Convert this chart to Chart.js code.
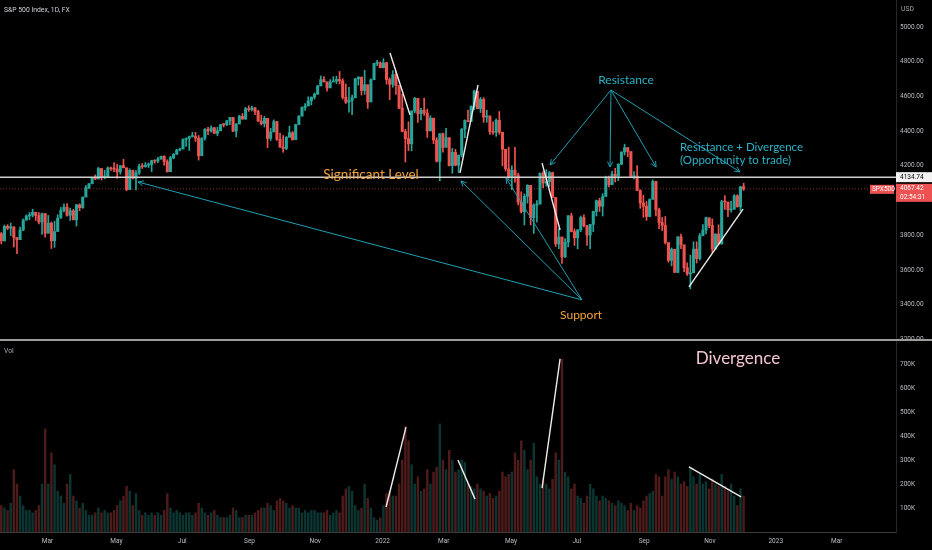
<!DOCTYPE html>
<html>
<head>
<meta charset="utf-8">
<script src="https://cdn.jsdelivr.net/npm/chart.js@4"></script>
<style>
  html, body { margin: 0; padding: 0; background: #000; }
  #wrap { position: relative; width: 932px; height: 550px; }
</style>
</head>
<body>
<div id="wrap"><canvas id="spx"></canvas></div>
<script>
// S&P 500, 2-day candles. Day index: trading days counted from 1 Mar 2021 (= 0)
var firstDay = -30;
var firstOpen = 3809;

var closes = [
  3768,3851,3841,3849,3787,3774,3830,3887,3911,3916,
  3932,3913,3876,3925,3811,3870,3768,3821,3898,3943,
  3962,3915,3941,3889,3975,3959,4020,4074,4097,4128,
  4124,4185,4135,4135,4188,4183,4181,4165,4201,4189,
  4063,4174,4128,4159,4197,4195,4204,4208,4230,4227,
  4239,4255,4224,4166,4246,4266,4291,4297,4352,4358,
  4369,4369,4360,4258,4359,4411,4401,4419,4387,4402,
  4437,4436,4460,4479,4400,4441,4486,4470,4529,4524,
  4535,4514,4458,4443,4474,4358,4395,4455,4353,4308,
  4300,4364,4391,4351,4438,4486,4537,4545,4575,4596,
  4613,4660,4697,4685,4649,4683,4689,4698,4690,4595,
  4567,4577,4592,4701,4712,4634,4668,4568,4696,4791,
  4793,4766,4794,4697,4670,4726,4663,4533,4398,4357,
  4327,4516,4589,4500,4521,4504,4401,4475,4349,4226,
  4385,4306,4363,4201,4278,4204,4262,4411,4461,4456,
  4543,4631,4530,4583,4481,4488,4397,4393,4462,4394,
  4296,4183,4132,4175,4147,3991,3935,4024,4088,3901,
  3974,3979,4158,4101,4109,4161,4018,3750,3790,3675,
  3760,3912,3821,3785,3831,3902,3855,3801,3863,3937,
  3999,3967,4023,4130,4091,4152,4140,4210,4280,4305,
  4283,4138,4141,4058,3986,3967,3908,4006,4110,3946,
  3873,3856,3758,3655,3719,3586,3791,3745,3612,3577,
  3583,3720,3665,3797,3830,3901,3856,3720,3807,3749,
  3993,3992,3946,3950,4027,3964,4080,4067
];
var highs = [
  3816,3859,3861,3870,3830,3784,3847,3894,3917,3931,
  3950,3933,3931,3928,3925,3914,3876,3881,3918,3960,
  3981,3983,3956,3949,3978,3981,4020,4086,4098,4129,
  4148,4191,4180,4175,4194,4193,4219,4209,4201,4238,
  4162,4183,4175,4172,4210,4213,4219,4217,4233,4235,
  4249,4256,4258,4235,4255,4271,4296,4302,4355,4361,
  4372,4393,4393,4375,4362,4415,4422,4430,4422,4423,
  4440,4445,4461,4480,4477,4444,4492,4502,4537,4546,
  4545,4536,4520,4492,4486,4472,4416,4465,4457,4389,
  4375,4369,4429,4398,4439,4489,4540,4559,4598,4597,
  4620,4664,4718,4714,4680,4697,4714,4717,4744,4702,
  4672,4652,4608,4705,4713,4710,4751,4665,4701,4791,
  4808,4800,4818,4797,4707,4749,4744,4632,4613,4411,
  4454,4517,4595,4539,4531,4591,4527,4489,4473,4362,
  4385,4389,4416,4342,4300,4295,4262,4415,4465,4522,
  4546,4637,4627,4594,4593,4521,4484,4453,4471,4513,
  4385,4279,4308,4200,4307,4157,4050,4038,4091,4076,
  3981,3999,4158,4167,4178,4168,4164,3974,3838,3707,
  3780,3913,3927,3836,3832,3911,3918,3855,3863,3939,
  4003,4013,4040,4141,4141,4168,4186,4212,4280,4325,
  4304,4250,4167,4201,4062,4030,3994,4010,4119,4110,
  3956,3902,3908,3727,3727,3710,3791,3807,3741,3641,
  3685,3762,3762,3810,3862,3905,3894,3894,3808,3860,
  4001,4028,3983,3995,4034,4034,4080,4100
];
var lows = [
  3750,3766,3832,3798,3732,3694,3791,3826,3886,3890,
  3905,3885,3865,3805,3789,3842,3723,3730,3830,3905,
  3935,3910,3885,3888,3853,3940,3955,4034,4068,4096,
  4120,4140,4118,4125,4138,4174,4167,4128,4152,4188,
  4056,4078,4125,4061,4150,4185,4192,4190,4167,4215,
  4218,4238,4203,4164,4175,4240,4267,4286,4300,4312,
  4289,4365,4340,4233,4263,4348,4379,4394,4385,4373,
  4405,4424,4433,4437,4397,4367,4447,4468,4467,4514,
  4517,4495,4456,4435,4424,4305,4346,4404,4346,4306,
  4278,4293,4384,4348,4355,4447,4492,4520,4550,4551,
  4585,4612,4664,4682,4630,4661,4685,4674,4672,4585,
  4560,4510,4495,4612,4665,4608,4612,4531,4582,4700,
  4778,4765,4764,4671,4582,4653,4611,4530,4396,4222,
  4288,4287,4505,4451,4465,4490,4364,4403,4327,4222,
  4114,4279,4317,4199,4157,4200,4161,4251,4362,4455,
  4455,4523,4528,4507,4450,4451,4381,4381,4370,4382,
  4200,4170,4128,4062,4106,3975,3928,3859,3985,3859,
  3810,3875,3983,4074,4083,4080,4017,3735,3722,3637,
  3671,3733,3819,3741,3722,3820,3848,3741,3722,3820,
  3911,3937,3911,4028,4079,4098,4107,4115,4206,4262,
  4253,4133,4124,4057,3955,3903,3886,3906,4030,3912,
  3838,3827,3749,3644,3623,3584,3584,3723,3590,3568,
  3491,3659,3640,3657,3799,3808,3843,3698,3720,3744,
  3750,3949,3907,3933,3950,3962,3940,4058
];
// volume, thousands
var volumes = [
  110,100,90,120,260,200,150,110,90,90,
  80,90,110,200,430,200,330,280,170,150,
  120,200,240,150,130,100,120,90,70,70,
  80,100,80,90,80,80,90,110,130,150,
  190,170,110,160,90,70,80,70,80,70,
  80,70,90,160,100,80,90,80,70,80,
  80,70,80,120,100,80,70,80,90,70,
  60,60,60,70,100,90,60,60,70,70,
  70,80,90,100,100,120,110,90,130,140,
  130,120,100,110,100,100,80,90,80,90,
  90,80,80,80,90,70,80,90,80,150,
  180,190,170,110,90,100,200,140,100,60,
  50,60,110,160,170,150,150,200,300,440,
  380,280,200,230,170,180,260,200,250,270,
  450,300,260,340,300,250,260,300,290,200,
  190,180,200,180,170,150,160,140,150,170,
  250,230,240,250,330,300,380,340,260,300,
  370,230,200,220,200,180,220,330,300,720,
  250,230,180,200,150,140,120,150,200,180,
  150,130,150,140,130,120,110,130,120,110,
  90,120,90,110,100,130,150,160,170,240,
  230,150,230,260,220,250,230,200,210,190,
  270,230,200,240,200,210,180,220,200,190,
  240,190,170,200,150,110,180,150
];

var tickDays = [0, 44, 86, 129, 171, 214, 253, 296, 338, 381, 423, 465, 504];
var tickLabels = ['Mar', 'May', 'Jul', 'Sep', 'Nov', '2022', 'Mar', 'May', 'Jul', 'Sep', 'Nov', '2023', 'Mar'];
var priceTicks = [3200, 3400, 3600, 3800, 4200, 4400, 4600, 4800, 5000];
var volumeTicks = [100000, 200000, 300000, 400000, 500000, 600000, 700000];

var levelPrice = 4134.74;
var lastPrice = 4067.42;

// drawings, in [day, price] / [day, volume]
var trendLines = [
  [218.7, 4850, 231.5, 4493],
  [263.4, 4159, 274.9, 4666],
  [315.8, 4216, 327.3, 3830],
  [409.6, 3502, 444.1, 3951]
];
var volumeLines = [
  [216.2, 104000, 228.9, 437000],
  [262.1, 300000, 273.0, 137000],
  [315.8, 183000, 327.3, 721000],
  [409.6, 271000, 442.9, 146000]
];
var supportFrom = [341.3, 3427];
var supportTips = [[57.8, 4107], [264.0, 4113], [292.8, 4130]];
var resistFrom = [359.8, 4637];
var resistTips = [[320.9, 4205], [359.2, 4193], [388.6, 4193], [442.2, 4165]];

var UP = '#26a69a', DOWN = '#ef5350';

var wicks = [], bodies = [], vols = [], candleColors = [], volColors = [];
var prev = firstOpen;
closes.forEach(function (c, i) {
  var x = firstDay + i * 2 + 0.5;
  var up = c >= prev;
  wicks.push({ x: x, y: [lows[i], highs[i]] });
  bodies.push({ x: x, y: [prev, c] });
  vols.push({ x: x, y: volumes[i] * 1000 });
  candleColors.push(up ? UP : DOWN);
  volColors.push(up ? 'rgba(38,166,154,0.32)' : 'rgba(239,83,80,0.32)');
  prev = c;
});

function seg(c, x1, y1, x2, y2) {
  c.beginPath(); c.moveTo(x1, y1); c.lineTo(x2, y2); c.stroke();
}
function arrow(c, x1, y1, x2, y2) {
  seg(c, x1, y1, x2, y2);
  var a = Math.atan2(y2 - y1, x2 - x1), L = 6;
  seg(c, x2, y2, x2 - L * Math.cos(a - 0.45), y2 - L * Math.sin(a - 0.45));
  seg(c, x2, y2, x2 - L * Math.cos(a + 0.45), y2 - L * Math.sin(a + 0.45));
}

var background = {
  id: 'background',
  beforeDraw: function (chart) {
    var c = chart.ctx;
    c.save();
    c.fillStyle = '#000';
    c.fillRect(0, 0, chart.width, chart.height);
    c.restore();
  }
};

var drawings = {
  id: 'drawings',
  afterDatasetsDraw: function (chart) {
    var c = chart.ctx, a = chart.chartArea;
    var sx = chart.scales.x, sy = chart.scales.y, sv = chart.scales.v;
    c.save();

    // significant level
    c.strokeStyle = '#d0d0d0';
    c.lineWidth = 1.5;
    seg(c, a.left, sy.getPixelForValue(levelPrice), a.right, sy.getPixelForValue(levelPrice));

    // last price line
    c.strokeStyle = 'rgba(239,83,80,0.55)';
    c.lineWidth = 1;
    c.setLineDash([1, 2]);
    seg(c, a.left, sy.getPixelForValue(lastPrice), a.right, sy.getPixelForValue(lastPrice));
    c.setLineDash([]);

    // white trend lines
    c.strokeStyle = '#ececec';
    c.lineWidth = 1.4;
    trendLines.forEach(function (t) {
      seg(c, sx.getPixelForValue(t[0]), sy.getPixelForValue(t[1]), sx.getPixelForValue(t[2]), sy.getPixelForValue(t[3]));
    });
    volumeLines.forEach(function (t) {
      seg(c, sx.getPixelForValue(t[0]), sv.getPixelForValue(t[1]), sx.getPixelForValue(t[2]), sv.getPixelForValue(t[3]));
    });

    // arrows
    c.strokeStyle = '#1f9fb2';
    c.lineWidth = 1;
    [[supportFrom, supportTips], [resistFrom, resistTips]].forEach(function (g) {
      var ox = sx.getPixelForValue(g[0][0]), oy = sy.getPixelForValue(g[0][1]);
      g[1].forEach(function (t) {
        arrow(c, ox, oy, sx.getPixelForValue(t[0]), sy.getPixelForValue(t[1]));
      });
    });

    // texts
    c.textBaseline = 'middle';
    c.textAlign = 'center';
    c.fillStyle = '#f4a23a';
    c.font = '13.5px Lato';
    c.fillText('Significant Level', sx.getPixelForValue(206.6), sy.getPixelForValue(4147));
    c.font = '12px Lato';
    c.fillText('Support', sx.getPixelForValue(340.7), sy.getPixelForValue(3340));
    c.fillStyle = '#2bb3c7';
    c.fillText('Resistance', sx.getPixelForValue(369.4), sy.getPixelForValue(4695));
    c.textAlign = 'left';
    c.font = '11.5px Lato';
    c.fillText('Resistance + Divergence', sx.getPixelForValue(403.9), sy.getPixelForValue(4309));
    c.fillText('(Opportunity to trade)', sx.getPixelForValue(403.9), sy.getPixelForValue(4234));
    c.textAlign = 'center';
    c.fillStyle = '#f5c6d4';
    c.font = '17px Lato';
    c.fillText('Divergence', sx.getPixelForValue(440.9), sv.getPixelForValue(721000));
    c.restore();
  },
  afterDraw: function (chart) {
    var c = chart.ctx, a = chart.chartArea, sy = chart.scales.y;
    c.save();
    // pane separator
    c.strokeStyle = '#9c9c9c';
    c.lineWidth = 2;
    seg(c, 0, sy.bottom, chart.width, sy.bottom);

    c.textBaseline = 'middle';
    c.font = '6.8px Roboto';
    c.fillStyle = '#d1d4dc';
    c.textAlign = 'left';
    c.fillText('S&P 500 Index, 1D, FX', 4, 10);
    c.fillStyle = '#a0a4ac';
    c.fillText('Vol', 4, sy.bottom + 11);
    c.fillText('USD', a.right + 5, 9);

    // level label
    var ly = sy.getPixelForValue(levelPrice);
    c.fillStyle = '#f2f2f2';
    c.fillRect(a.right, ly - 5, chart.width - a.right, 10);
    c.fillStyle = '#000';
    c.font = '6.5px Roboto';
    c.fillText(levelPrice.toFixed(2), a.right + 4, ly);

    // last price label
    var py = sy.getPixelForValue(lastPrice);
    c.fillStyle = '#ee5151';
    c.fillRect(a.right, py - 5, chart.width - a.right, 18);
    c.fillRect(a.right - 26, py - 4, 24, 9);
    c.fillStyle = '#fff';
    c.fillText(lastPrice.toFixed(2), a.right + 4, py);
    c.fillText('02:54:31', a.right + 4, py + 8.5);
    c.fillText('SPX500', a.right - 24, py + 0.5);
    c.restore();
  }
};

var tickFont = { family: 'Roboto', size: 6.5 };

new Chart(document.getElementById('spx'), {
  type: 'bar',
  data: {
    datasets: [
      {
        data: wicks, yAxisID: 'y', backgroundColor: candleColors,
        barThickness: 1, grouped: false, order: 2
      },
      {
        data: bodies, yAxisID: 'y', backgroundColor: candleColors,
        barThickness: 2.4, grouped: false, minBarLength: 1, order: 1
      },
      {
        data: vols, yAxisID: 'v', backgroundColor: volColors,
        barThickness: 1.8, grouped: false, order: 3
      }
    ]
  },
  options: {
    responsive: true,
    maintainAspectRatio: false,
    animation: false,
    layout: { padding: 0 },
    plugins: {
      legend: { display: false },
      tooltip: { enabled: false }
    },
    scales: {
      x: {
        type: 'linear',
        offset: false,
        min: -30.33,
        max: 541.8,
        grid: { display: false, drawTicks: false },
        border: { color: '#3a3a3a' },
        afterBuildTicks: function (scale) {
          scale.ticks = tickDays.map(function (d) { return { value: d }; });
        },
        afterFit: function (scale) {
          scale.height = 18;
          scale.paddingLeft = 0;
          scale.paddingRight = 0;
        },
        ticks: {
          autoSkip: false,
          maxRotation: 0,
          padding: 5,
          color: '#b8bcc4',
          font: tickFont,
          callback: function (v, i) { return tickLabels[i]; }
        }
      },
      y: {
        position: 'right',
        stack: 'panes',
        stackWeight: 340,
        min: 3196,
        max: 5156,
        grid: { display: false, drawTicks: false },
        border: { color: '#262626' },
        afterBuildTicks: function (scale) {
          scale.ticks = priceTicks.map(function (p) { return { value: p }; });
        },
        afterFit: function (scale) {
          scale.width = 36;
          scale.paddingTop = 0;
          scale.paddingBottom = 0;
        },
        ticks: {
          padding: 4,
          color: '#b8bcc4',
          font: tickFont,
          callback: function (v) { return v.toFixed(2); }
        }
      },
      v: {
        position: 'right',
        stack: 'panes',
        stackWeight: 192,
        min: 0,
        max: 800000,
        grid: { display: false, drawTicks: false },
        border: { color: '#262626' },
        afterBuildTicks: function (scale) {
          scale.ticks = volumeTicks.map(function (p) { return { value: p }; });
        },
        afterFit: function (scale) {
          scale.width = 36;
          scale.paddingTop = 0;
          scale.paddingBottom = 0;
        },
        ticks: {
          padding: 4,
          color: '#b8bcc4',
          font: tickFont,
          callback: function (v) { return (v / 1000) + 'K'; }
        }
      }
    }
  },
  plugins: [background, drawings]
});
</script>
</body>
</html>
